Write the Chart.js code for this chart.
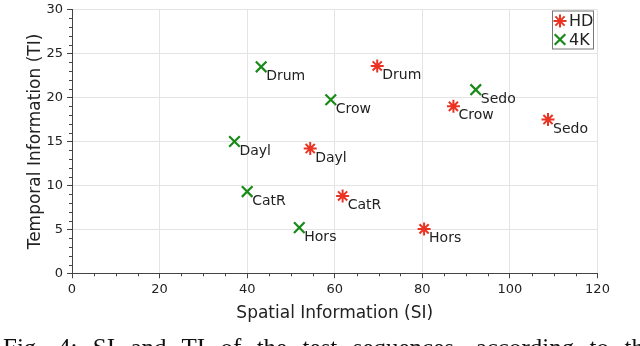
<!DOCTYPE html>
<html>
<head>
<meta charset="utf-8">
<script src="https://cdn.jsdelivr.net/npm/chart.js@4.4.1/dist/chart.umd.min.js"></script>
<style>
  body { margin: 0; width: 640px; height: 346px; overflow: hidden; background: #fff; position: relative; }
  #wrap { position: absolute; left: 0; top: 0; width: 640px; height: 346px; }
  #caption {
    position: absolute; left: 3px; top: 335px; width: 652px;
    font-family: "Liberation Serif", serif; font-size: 25px; line-height: 25px;
    white-space: nowrap; text-align: justify; text-align-last: justify; color: #111;
  }
</style>
</head>
<body>
<div id="wrap"><canvas id="siTiChart" width="640" height="346"></canvas></div>
<div id="caption">Fig. 4: SI and TI of the test sequences, according to the</div>
<script>
// Sequenzen und Messwerte (SI / TI)
const sequences = ['CatR', 'Crow', 'Dayl', 'Drum', 'Hors', 'Sedo'];
const hdSI = [61.8, 87.1, 54.4, 69.7, 80.4, 108.7];
const hdTI = [8.8, 19.0, 14.2, 23.6, 5.05, 17.5];
const k4SI = [40.0, 59.1, 37.1, 43.2, 51.9, 92.2];
const k4TI = [9.3, 19.75, 15.0, 23.5, 5.2, 20.9];

const xTicks = [0, 20, 40, 60, 80, 100, 120];
const yTicks = [0, 5, 10, 15, 20, 25, 30];

const hdColor = '#ea3323';
const k4Color = '#178a17';
const textColor = '#222';
const font = 'DejaVu Sans';

const toPoints = (xs, ys) => xs.map((x, i) => ({ x: x, y: ys[i] }));

// kleine Ticks, Punktbeschriftungen und Legende im Plotbereich
const extras = {
  id: 'extras',
  afterDraw(chart) {
    const ctx = chart.ctx;
    const xs = chart.scales.x, ys = chart.scales.y;
    const area = chart.chartArea;
    ctx.save();
    ctx.strokeStyle = '#444';
    ctx.lineWidth = 1;
    ctx.beginPath();
    for (let v = 0; v <= 120; v += 5) {
      if (v % 20 === 0) continue;
      const px = Math.round(xs.getPixelForValue(v)) + 0.5;
      ctx.moveTo(px, area.bottom);
      ctx.lineTo(px, area.bottom + 3);
    }
    for (let v = 0; v <= 30; v += 1) {
      if (v % 5 === 0) continue;
      const py = Math.round(ys.getPixelForValue(v)) + 0.5;
      ctx.moveTo(area.left - 3, py);
      ctx.lineTo(area.left, py);
    }
    ctx.stroke();

    // Namen neben die Punkte
    ctx.fillStyle = textColor;
    ctx.font = '14px "' + font + '"';
    ctx.textBaseline = 'middle';
    ctx.textAlign = 'left';
    chart.data.datasets.forEach((ds, di) => {
      chart.getDatasetMeta(di).data.forEach((pt, i) => {
        ctx.fillText(sequences[i], pt.x + 5, pt.y + 9.5);
      });
    });

    // Legende oben rechts
    const bx = 552, by = 10.5, bw = 41, bh = 38;
    ctx.fillStyle = '#fff';
    ctx.fillRect(bx, by, bw, bh);
    ctx.strokeStyle = '#777';
    ctx.lineWidth = 1;
    ctx.strokeRect(bx + 0.5, by + 0.5, bw, bh);
    chart.data.datasets.forEach((ds, di) => {
      const cy = by + 10.5 + di * 18.5;
      ctx.strokeStyle = ds.borderColor;
      ctx.fillStyle = ds.backgroundColor;
      ctx.lineWidth = ds.borderWidth;
      Chart.helpers.drawPoint(ctx, {
        pointStyle: ds.pointStyle, radius: ds.pointRadius, borderWidth: ds.borderWidth
      }, 560, cy);
      ctx.fillStyle = textColor;
      ctx.font = '16px "' + font + '"';
      ctx.fillText(ds.label, 569, cy + 1);
    });
    ctx.restore();
  }
};

const ctx = document.getElementById('siTiChart').getContext('2d');
const chart = new Chart(ctx, {
  type: 'scatter',
  data: {
    datasets: [{
      label: 'HD',
      data: toPoints(hdSI, hdTI),
      pointStyle: 'star',
      pointRadius: 6.5,
      pointHoverRadius: 6.5,
      borderWidth: 2,
      borderColor: hdColor,
      backgroundColor: hdColor
    }, {
      label: '4K',
      data: toPoints(k4SI, k4TI),
      pointStyle: 'crossRot',
      pointRadius: 7.5,
      pointHoverRadius: 7.5,
      borderWidth: 2.2,
      borderColor: k4Color,
      backgroundColor: k4Color
    }]
  },
  options: {
    responsive: false,
    animation: false,
    layout: { padding: { left: 0, top: 6, right: 42.5, bottom: 22.7 } },
    plugins: {
      legend: { display: false },
      tooltip: { enabled: false }
    },
    scales: {
      x: {
        type: 'linear',
        min: 0, max: 120,
        afterBuildTicks: (s) => { s.ticks = xTicks.map(v => ({ value: v })); },
        afterFit: (s) => { s.height = 50; s.paddingLeft = 0; s.paddingRight = 0; },
        grid: { color: '#e4e4e4', tickColor: '#444', tickLength: 5 },
        border: { color: '#444' },
        ticks: { color: textColor, padding: 4, font: { family: font, size: 13 } },
        title: {
          display: true, text: 'Spatial Information (SI)', color: textColor,
          font: { family: font, size: 17 }, padding: { top: 0, bottom: 0 }
        }
      },
      y: {
        type: 'linear',
        min: 0, max: 30,
        afterBuildTicks: (s) => { s.ticks = yTicks.map(v => ({ value: v })); },
        afterFit: (s) => { s.width = 72; s.paddingTop = 0; s.paddingBottom = 0; },
        grid: { color: '#e4e4e4', tickColor: '#444', tickLength: 5 },
        border: { color: '#444' },
        ticks: { color: textColor, padding: 4, font: { family: font, size: 13 } },
        title: {
          display: true, text: 'Temporal Information (TI)', color: textColor,
          font: { family: font, size: 17 }, padding: { top: 25, bottom: 0 }
        }
      }
    }
  },
  plugins: [extras]
});
</script>
</body>
</html>
